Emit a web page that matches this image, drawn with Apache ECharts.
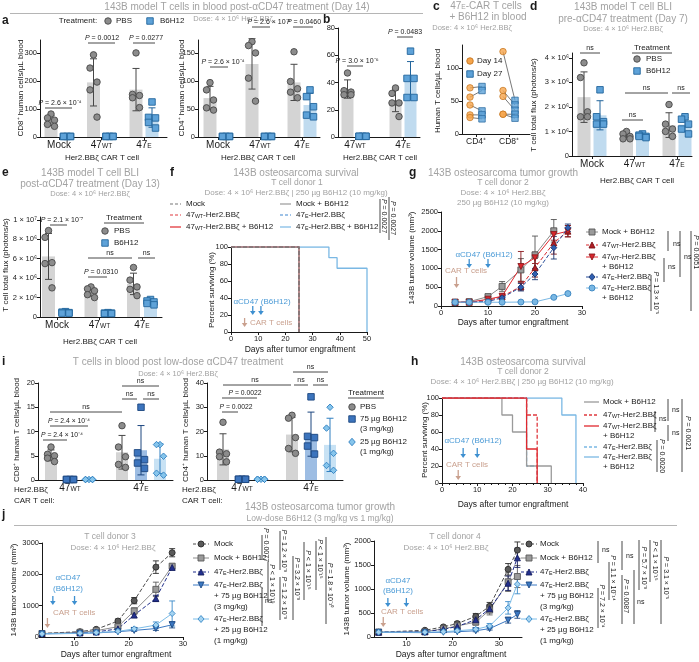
<!DOCTYPE html>
<html><head><meta charset="utf-8">
<script src="https://cdn.jsdelivr.net/npm/echarts@6/dist/echarts.min.js"></script>
<style>html,body{margin:0;padding:0;background:#fff}#c{width:699px;height:662px}</style>
</head><body><div id="c"></div>
<script>
// ================= DATA =================
const aCategories = ['Mock','47WT','47E'];
const aCD8_PBS   = [[82,68,60,45,38],[293,246,196,168,71],[300,152,148,140,105]];
const aCD8_B6H12 = [[2,2,2,2,2],[2,2,2,2,2],[125,70,68,52,32]];
const aCD4_PBS   = [[97,84,66,52,48],[170,163,150,105,64],[152,99,86,80,70]];
const aCD4_B6H12 = [[1,1,1,1,1],[1,1,1,1,1],[84,72,54,39,36]];
const aCD8_ticks = [0,100,200,300];
const aCD4_ticks = [0,50,100,150];

const bCategories = ['47WT','47E'];
const b_PBS   = [[47,34,33,31,31],[36,32,25,25,15]];
const b_B6H12 = [[0.5,0.5,0.5,0.5,0.5],[63,43,43,29,29]];
const b_ticks = [0,20,40,60,80];

const cCategories = ['CD4⁺','CD8⁺'];
const cDay14 = [[70,56,44,29,25],[125,66,57,30,30]];
const cDay27 = [[72,66,35,29,23],[51,44,36,30,24]];
const c_ticks = [0,50,100];

const dCategories = ['Mock','47WT','47E'];
const d_PBS   = [[3.8e6,3.2e6,1.8e6,1.6e6,1.6e6],[1.0e6,0.9e6,0.8e6,0.7e6,0.7e6],[2.1e6,1.3e6,1.1e6,1.0e6,0.8e6]];
const d_B6H12 = [[2.7e6,1.6e6,1.4e6,1.3e6,1.3e6],[0.9e6,0.85e6,0.8e6,0.8e6,0.75e6],[1.6e6,1.5e6,1.3e6,1.1e6,0.9e6]];
const d_ticks = [0,1e6,2e6,3e6,4e6];

const eCategories = ['Mock','47WT','47E'];
const e_PBS   = [[8.9e6,8.2e6,5.6e6,5.5e6,3.0e6],[3.1e6,2.9e6,2.7e6,2.3e6,2.0e6],[5.1e6,3.8e6,3.1e6,2.85e6,2.2e6]];
const e_B6H12 = [[0.55e6,0.5e6,0.45e6,0.4e6,0.4e6],[0.45e6,0.4e6,0.4e6,0.35e6,0.35e6],[1.8e6,1.65e6,1.55e6,1.4e6,1.25e6]];
const e_ticks = [0,2e6,4e6,6e6,8e6,1e7];

// f survival (day, % surviving) step points
const fMock    = [[0,100],[25,0]];
const fMockB   = [[0,100],[25,0]];
const f47WT    = [[0,100],[25,0]];
const f47WTB   = [[0,100],[25,0]];
const f47E     = [[0,100],[25,0]];
const f47EB    = [[0,100],[36,87.5],[39,75],[50,0]];

// g tumor growth
const gDays   = [3,6,10,13,17,20,24,27];
const gMockB  = [100,115,250,520,960,1360,2000,null];
const gMockBe = [10,15,40,130,300,500,300,null];
const g47WT   = [100,100,150,250,520,1020,1680,1990];
const g47WTe  = [10,10,20,40,100,250,300,150];
const g47WTB  = [100,100,180,260,1050,1280,1900,1990];
const g47WTBe = [10,10,30,60,400,150,150,150];
const g47E    = [100,100,120,220,500,850,1550,2080];
const g47Ee   = [10,10,15,30,100,150,300,100];
const g47EB   = [100,100,100,100,105,110,230,330];
const g47EBe  = [10,10,10,10,15,15,20,30];

// h survival
const hMockB  = [[0,100],[17,80],[20,60],[24,20],[31,0]];
const h47WT   = [[0,100],[24,80],[27,0]];
const h47WTB  = [[0,100],[24,40],[27,0]];
const h47E    = [[0,100],[24,20],[27,0]];
const h47EB   = [[0,100],[34,80],[38,0]];

// i low dose
const iCategories = ['47WT','47E'];
const iCD8_PBS = [[6.8,5.3,5.0,4.5,3.8],[11.2,6.8,4.8,3.2,2.6]];
const iCD8_75  = [[0.1,0.1,0.1,0.1,0.1],[15,5.6,4.2,3.5,2.4]];
const iCD8_25  = [[0.1,0.1,0.1,0.1,0.1],[7.3,7.3,4.9,1.4,1.0]];
const iCD4_PBS = [[23.8,11.5,10.8,9.6,7.5],[26.7,25.5,17.5,13,11]];
const iCD4_75  = [[0.3,0.3,0.3,0.3,0.3],[34.3,18,17.5,14,10.7]];
const iCD4_25  = [[0.3,0.3,0.3,0.3,0.3],[30,21.4,11,6,4]];

// j tumor growth low dose
const jlDays   = [4,11,14,18,21,25,28];
const jlMock   = [115,170,245,510,1160,2230,2690];
const jlMockE  = [10,20,30,60,100,200,130];
const jlMockB  = [110,150,200,330,830,1520,2260];
const jlMockBE = [10,20,25,50,100,230,80];
const jl47E    = [105,130,160,260,700,1230,2220];
const jl47EE   = [10,15,20,40,80,100,60];
const jl47E75  = [100,115,130,170,210,270,390];
const jl47E75E = [10,10,15,20,30,60,100];
const jl47E25  = [100,120,140,180,260,380,750];
const jl47E25E = [10,10,15,20,40,100,400];

const jrDays   = [4,14,18,21,25,28,32,34];
const jrMock   = [100,140,210,280,430,640,1410,1810];
const jrMockE  = [5,15,30,40,60,80,120,170];
const jrMockB  = [100,110,170,230,310,560,1150,1260];
const jrMockBE = [5,10,30,40,60,100,200,230];
const jr47E    = [100,110,160,220,360,590,1120,1650];
const jr47EE   = [5,10,20,30,50,80,150,200];
const jr47E75  = [100,90,100,110,130,175,350,470];
const jr47E75E = [5,10,10,15,20,30,60,80];
const jr47E25  = [100,100,110,130,160,230,607,1100];
const jr47E25E = [5,10,15,20,30,50,130,200];

// ================= STYLE / HELPERS =================
const FF = '"Liberation Sans", Arial, Helvetica, sans-serif';
const AX = '#1a1a1a', TG = '#a2a2a2', BLUE_T = '#4a9ad6', TAN = '#c9a08e';
const TFS = 7.5; // tick label font
const grids=[], xAxes=[], yAxes=[], series=[], G=[];
const LBL = {'Mock':'Mock','47WT':'47{s|WT}','47E':'47{s|E}'};
const lab = k => LBL[k] || k;
const RICH = (fs,c) => ({
  s:{fontSize:fs*0.66, fontFamily:FF, fill:c, color:c, verticalAlign:'bottom'},
  i:{fontSize:fs, fontFamily:FF, fill:c, color:c, fontStyle:'italic'}
});
const PBS = {sym:'circle', fill:'#8c8c8c', stroke:'#474747', bar:'#d4d4d4', err:'#474747'};
const B6  = {sym:'rect', fill:'#5ea2d8', stroke:'#22659c', bar:'#c0dbef', err:'#22659c'};
const D75 = {sym:'rect', fill:'#3c74bd', stroke:'#1c467f', bar:'#9dbde3', err:'#1c467f'};
const D25 = {sym:'diamond', fill:'#86c5ec', stroke:'#2f7fc0', bar:'#c8e2f4', err:'#2f7fc0'};
const SYM = {circle:'circle', rect:'rect', diamond:'diamond', triangle:'triangle', tridown:'path://M0,0L10,0L5,9Z'};
const JIT = [0,-3.5,3.5,-3.5,3.5];
const mean = a => a.reduce((s,v)=>s+v,0)/a.length;
const sdev = a => { const m=mean(a); return Math.sqrt(a.reduce((s,v)=>s+(v-m)*(v-m),0)/(a.length-1)); };

function addGrid(l,t,w,h){ grids.push({left:l,top:t,width:w,height:h,containLabel:false}); return grids.length-1; }
function yAx(gi,max,o){
  o=o||{};
  const ax={gridIndex:gi,type:'value',min:0,max,splitLine:{show:false},
    axisLine:{show:true,lineStyle:{color:AX,width:1}},
    axisTick:{show:true,length:3,lineStyle:{color:AX}},
    axisLabel:{formatter:o.fmt||(v=>String(v)),fontSize:TFS,color:AX,fontFamily:FF,margin:3}};
  if(o.ticks){ax.axisTick.customValues=o.ticks; ax.axisLabel.customValues=o.ticks;}
  if(o.interval){ax.interval=o.interval;}
  yAxes.push(ax);
}
function xAx(gi,min,max,o){
  o=o||{};
  const fs=o.fs||TFS;
  const ax={gridIndex:gi,type:'value',min,max,splitLine:{show:false},
    axisLine:{show:true,onZero:false,lineStyle:{color:AX,width:1}},
    axisTick:{show:true,length:3,lineStyle:{color:AX}},
    minorTick:o.minor?{show:true,splitNumber:o.minor,length:2,lineStyle:{color:AX}}:{show:false},
    axisLabel:{formatter:o.fmt||(v=>String(v)),fontSize:fs,color:AX,fontFamily:FF,margin:o.margin||3,
      rich:{s:{fontSize:fs*0.66,fontFamily:FF,color:AX,verticalAlign:'bottom'}}}};
  if(o.ticks){ax.axisTick.customValues=o.ticks; ax.axisLabel.customValues=o.ticks;}
  if(o.interval){ax.interval=o.interval;}
  xAxes.push(ax);
}
function barItem(fill,errc,bw){
  return function(params,api){
    const x=api.value(0), m=api.value(1), e=api.value(2);
    const b=api.coord([x,0]), tp=api.coord([x,m]);
    const ch=[];
    if(fill && b[1]-tp[1]>0.5) ch.push({type:'rect',shape:{x:b[0]-bw/2,y:tp[1],width:bw,height:b[1]-tp[1]},style:{fill}});
    if(errc && e>0 && (b[1]-tp[1])>2){
      const hi=api.coord([x,m+e]), lo=api.coord([x,Math.max(m-e,0)]);
      ch.push({type:'line',shape:{x1:b[0],y1:hi[1],x2:b[0],y2:lo[1]},style:{stroke:errc,lineWidth:1}});
      ch.push({type:'line',shape:{x1:b[0]-3.5,y1:hi[1],x2:b[0]+3.5,y2:hi[1]},style:{stroke:errc,lineWidth:1}});
      ch.push({type:'line',shape:{x1:b[0]-3.5,y1:lo[1],x2:b[0]+3.5,y2:lo[1]},style:{stroke:errc,lineWidth:1}});
    }
    return {type:'group',children:ch};
  };
}
function errItem(c){
  return function(params,api){
    const x=api.value(0), v=api.value(1), e=api.value(2);
    const hi=api.coord([x,v+e]), lo=api.coord([x,Math.max(v-e,0)]);
    return {type:'group',children:[
      {type:'line',shape:{x1:hi[0],y1:hi[1],x2:lo[0],y2:lo[1]},style:{stroke:c,lineWidth:0.9}},
      {type:'line',shape:{x1:hi[0]-3,y1:hi[1],x2:hi[0]+3,y2:hi[1]},style:{stroke:c,lineWidth:0.9}},
      {type:'line',shape:{x1:lo[0]-3,y1:lo[1],x2:lo[0]+3,y2:lo[1]},style:{stroke:c,lineWidth:0.9}}]};
  };
}
function dotPanel(p){
  const [l,t,w,h]=p.grid; const gi=addGrid(l,t,w,h);
  const c=p.centers, n=c.length, unit=(c[n-1]-c[0])/(n-1);
  const xmin=1-(c[0]-l)/unit, xmax=n+(l+w-c[n-1])/unit;
  xAx(gi,xmin,xmax,{ticks:c.map((_,i)=>i+1),fmt:v=>lab(p.labels[Math.round(v)-1]),fs:p.lfs||10});
  yAx(gi,p.ymax,{ticks:p.yticks,fmt:p.yfmt});
  const bw=p.bw||13;
  p.series.forEach(s=>{
    const bars=s.data.map((vals,g)=>[g+1+s.off/unit,mean(vals),sdev(vals)]);
    series.push({type:'custom',xAxisIndex:gi,yAxisIndex:gi,z:2,silent:true,data:bars,renderItem:barItem(s.bar,s.err,bw)});
  });
  p.series.forEach(s=>{
    const pts=[]; s.data.forEach((vals,g)=>vals.forEach((v,k)=>pts.push([g+1+(s.off+JIT[k%JIT.length])/unit,v])));
    series.push({type:'scatter',xAxisIndex:gi,yAxisIndex:gi,z:3,silent:true,symbol:SYM[s.sym],symbolSize:s.size||6.5,data:pts,
      itemStyle:{color:s.fill,borderColor:s.stroke,borderWidth:0.9,opacity:1}});
  });
  return {gi,unit};
}
function linePanel(p){
  const [l,t,w,h]=p.grid; const gi=addGrid(l,t,w,h);
  xAx(gi,p.xmin,p.xmax,{ticks:p.xticks,interval:p.xint});
  yAx(gi,p.ymax,{ticks:p.yticks,interval:p.yint});
  p.series.forEach(s=>{
    const pts=[],errs=[];
    p.days.forEach((d,i)=>{ if(s.vals[i]!=null){pts.push([d,s.vals[i]]); errs.push([d,s.vals[i],s.errs[i]]);} });
    series.push({type:'custom',xAxisIndex:gi,yAxisIndex:gi,z:2,silent:true,data:errs,renderItem:errItem(s.stroke)});
    series.push({type:'line',xAxisIndex:gi,yAxisIndex:gi,z:3,silent:true,data:pts,symbol:SYM[s.sym],symbolSize:s.size||6,
      lineStyle:{color:s.line,width:1,type:s.dash?[4,2]:'solid'},itemStyle:{color:s.fill,borderColor:s.stroke,borderWidth:0.9}});
  });
  return gi;
}
function survPanel(p){
  const [l,t,w,h]=p.grid; const gi=addGrid(l,t,w,h);
  xAx(gi,0,p.xmax,{interval:10,minor:p.minor});
  yAx(gi,100,{interval:20});
  p.series.forEach(s=>{
    series.push({type:'line',step:'end',xAxisIndex:gi,yAxisIndex:gi,z:3,silent:true,data:s.data,symbol:'none',
      lineStyle:{color:s.color,width:1.3,type:s.dash?[4,2]:'solid'}});
  });
  return gi;
}
function T(x,y,text,o){
  o=o||{}; const fs=o.fs||8, c=o.c||AX, al=o.al||'center';
  G.push({type:'text',x,y,rotation:o.rot||0,z:20,silent:true,
    style:{text,fontFamily:FF,fontSize:fs,fill:c,fontWeight:o.fw||'normal',fontStyle:o.it?'italic':'normal',
      align:al,textAlign:al,verticalAlign:'middle',textVerticalAlign:'middle',rich:RICH(fs,c)}});
}
function L(x1,y1,x2,y2,o){
  o=o||{};
  G.push({type:'line',z:20,silent:true,shape:{x1,y1,x2,y2},style:{stroke:o.c||AX,lineWidth:o.w||0.8,lineDash:o.dash||null}});
}
function S(x1,x2,y,txt,tx,fs){ L(x1,y,x2,y); T(tx!=null?tx:(x1+x2)/2,y-4.5,txt,{fs:fs||7}); }
function TR(x,y,txt,fs){ T(x,y,txt,{rot:-Math.PI/2,fs:fs||7}); }
function VL(x,y1,y2){ L(x,y1,x,y2); }
function symG(kind,x,y,s,fill,stroke){
  const h=s/2, st={fill,stroke,lineWidth:0.9};
  if(kind==='circle') G.push({type:'circle',z:21,silent:true,shape:{cx:x,cy:y,r:h},style:st});
  else if(kind==='rect') G.push({type:'rect',z:21,silent:true,shape:{x:x-h,y:y-h,width:s,height:s},style:st});
  else {
    let pts;
    if(kind==='diamond') pts=[[x,y-h-0.5],[x+h,y],[x,y+h+0.5],[x-h,y]];
    else if(kind==='triangle') pts=[[x,y-h],[x+h,y+h],[x-h,y+h]];
    else pts=[[x-h,y-h],[x+h,y-h],[x,y+h]];
    G.push({type:'polygon',z:21,silent:true,shape:{points:pts},style:st});
  }
}
function arrow(x,y1,y2,c){
  L(x,y1,x,y2-3,{c,w:1.3});
  G.push({type:'polygon',z:21,silent:true,shape:{points:[[x-2.8,y2-4],[x+2.8,y2-4],[x,y2]]},style:{fill:c}});
}
function LG(x,y,s,half){
  L(x-half,y,x+half,y,{c:s.line,w:1,dash:s.dash?[3,2]:null});
  if(s.sym) symG(s.sym,x,y,6,s.fill,s.stroke);
}

// ================= PANELS =================
// a
dotPanel({grid:[40,40,127,97],centers:[59,102,144],labels:aCategories,ymax:346,yticks:aCD8_ticks,
  series:[{data:aCD8_PBS,off:-8,...PBS},{data:aCD8_B6H12,off:8,...B6}]});
dotPanel({grid:[198,40,122,97],centers:[218,260,302],labels:aCategories,ymax:173,yticks:aCD4_ticks,
  series:[{data:aCD4_PBS,off:-8,...PBS},{data:aCD4_B6H12,off:8,...B6}]});
// b
dotPanel({grid:[338,28,82,109],centers:[355,403],labels:bCategories,ymax:80,yticks:b_ticks,bw:12,
  series:[{data:b_PBS,off:-7.5,...PBS},{data:b_B6H12,off:7.5,...B6}]});
// c
(function(){
  const gi=addGrid(462,45,68,89);
  const cen=[476,509], unit=33, xmin=1-(cen[0]-462)/unit, xmax=2+(530-cen[1])/unit;
  xAx(gi,xmin,xmax,{ticks:[1,2],fmt:v=>cCategories[Math.round(v)-1],fs:8.5});
  yAx(gi,135,{ticks:c_ticks});
  const o14=-6/unit, o27=6/unit, segs=[];
  cDay14.forEach((arr,g)=>arr.forEach((v,k)=>segs.push([g+1+o14,v,g+1+o27,cDay27[g][k]])));
  series.push({type:'custom',xAxisIndex:gi,yAxisIndex:gi,z:2,silent:true,data:segs,renderItem:(p,api)=>{
    const a=api.coord([api.value(0),api.value(1)]), b=api.coord([api.value(2),api.value(3)]);
    return {type:'line',shape:{x1:a[0],y1:a[1],x2:b[0],y2:b[1]},style:{stroke:'#555',lineWidth:0.8}};
  }});
  const p14=[],p27=[];
  cDay14.forEach((arr,g)=>arr.forEach(v=>p14.push([g+1+o14,v])));
  cDay27.forEach((arr,g)=>arr.forEach(v=>p27.push([g+1+o27,v])));
  series.push({type:'scatter',xAxisIndex:gi,yAxisIndex:gi,z:3,silent:true,symbol:'circle',symbolSize:6.5,data:p14,itemStyle:{color:'#f6a54c',borderColor:'#c4751f',borderWidth:0.9}});
  series.push({type:'scatter',xAxisIndex:gi,yAxisIndex:gi,z:3,silent:true,symbol:'rect',symbolSize:6.5,data:p27,itemStyle:{color:'#5ea2d8',borderColor:'#22659c',borderWidth:0.9}});
})();
// d
const fmtE6 = v => v===0?'0':(Math.round(v/1e6))+' × 10⁶';
dotPanel({grid:[572,53,120,103],centers:[592,634,677],labels:dCategories,ymax:4.2e6,yticks:d_ticks,yfmt:fmtE6,
  series:[{data:d_PBS,off:-8,...PBS},{data:d_B6H12,off:8,...B6}]});
// e
const fmtE = v => v===0?'0':(v>=1e7?'1 × 10⁷':(Math.round(v/1e6))+' × 10⁶');
dotPanel({grid:[40,217,122,100],centers:[57,100,142],labels:eCategories,ymax:1.03e7,yticks:e_ticks,yfmt:fmtE,
  series:[{data:e_PBS,off:-8.5,...PBS},{data:e_B6H12,off:8.5,...B6}]});
// f
const F = {grid:[231,247,136,85],xmax:50};
survPanel({...F,series:[
  {data:f47EB,color:'#7ab8e4'},{data:f47E,color:'#3f86d0',dash:true},
  {data:f47WTB,color:'#e0282e'},{data:f47WT,color:'#e0383e',dash:true},
  {data:fMockB,color:'#9a9a9a'},{data:fMock,color:'#777',dash:true}]});
// g
const GP = {grid:[441,212,141,94],xmin:0,xmax:30};
const gSer = [
  {vals:gMockB,errs:gMockBe,line:'#8a8a8a',fill:'#9a9a9a',stroke:'#555',sym:'rect'},
  {vals:g47WT,errs:g47WTe,line:'#d9262c',fill:'#b01e24',stroke:'#7a1015',sym:'triangle',dash:true},
  {vals:g47WTB,errs:g47WTBe,line:'#e0282e',fill:'#d9262c',stroke:'#8a1a1e',sym:'tridown'},
  {vals:g47E,errs:g47Ee,line:'#2b4f9a',fill:'#2f5fb0',stroke:'#1a3570',sym:'diamond',dash:true},
  {vals:g47EB,errs:g47EBe,line:'#7ab8e4',fill:'#79b7e3',stroke:'#3a84c0',sym:'circle'}];
linePanel({...GP,days:gDays,xint:10,ymax:2500,yint:500,series:gSer});
// h
const H = {grid:[442,398,141,85],xmax:40};
survPanel({...H,minor:5,series:[
  {data:h47EB,color:'#7ab8e4'},{data:h47E,color:'#7ab8e4',dash:true},
  {data:hMockB,color:'#9a9a9a'},
  {data:h47WTB,color:'#e0282e'},{data:h47WT,color:'#e0383e',dash:true}]});
// i
dotPanel({grid:[38,383,135,97],centers:[70,141],labels:iCategories,ymax:20,yticks:[0,5,10,15,20],bw:12,
  series:[{data:iCD8_PBS,off:-19,...PBS},{data:iCD8_75,off:0,...D75},{data:iCD8_25,off:19,...D25}]});
dotPanel({grid:[207,383,136,97],centers:[242,311],labels:iCategories,ymax:40,yticks:[0,10,20,30,40],bw:12,
  series:[{data:iCD4_PBS,off:-19,...PBS},{data:iCD4_75,off:0,...D75},{data:iCD4_25,off:19,...D25}]});
// j
const jSty = [
  {line:'#4d4d4d',fill:'#5a5a5a',stroke:'#2a2a2a',sym:'circle',dash:true},
  {line:'#8c8c8c',fill:'#9a9a9a',stroke:'#5a5a5a',sym:'rect'},
  {line:'#1f2d8a',fill:'#23308f',stroke:'#141d5e',sym:'triangle',dash:true},
  {line:'#3b78c2',fill:'#3b78c2',stroke:'#1d4a85',sym:'tridown'},
  {line:'#7dbde8',fill:'#a5d3f0',stroke:'#3a8ac8',sym:'diamond'}];
linePanel({grid:[42,543,141,94],xmin:4,xmax:30,xticks:[10,20,30],days:jlDays,ymax:3000,yticks:[0,1000,2000,3000],
  series:[[jlMock,jlMockE],[jlMockB,jlMockBE],[jl47E,jl47EE],[jl47E75,jl47E75E],[jl47E25,jl47E25E]].map((d,i)=>({vals:d[0],errs:d[1],...jSty[i]}))});
linePanel({grid:[374,541,148,96],xmin:3,xmax:35,xticks:[10,20,30],days:jrDays,ymax:2000,yticks:[0,500,1000,1500,2000],
  series:[[jrMock,jrMockE],[jrMockB,jrMockBE],[jr47E,jr47EE],[jr47E75,jr47E75E],[jr47E25,jr47E25E]].map((d,i)=>({vals:d[0],errs:d[1],...jSty[i]}))});

// ================= ANNOTATIONS =================
const B = {fs:12,fw:'bold',al:'left'};
// header a/b
T(2,21,'a',B);
T(237,7,'143B model T cells in blood post-αCD47 treatment (Day 14)',{fs:10,c:TG});
L(10,13.5,423,13.5,{c:TG});
T(233,18.5,'Dose: 4 × 10⁶ Her2.BBζ',{fs:7.5,c:TG});
T(78,21,'Treatment:',{fs:8}); symG('circle',108,21,6.5,PBS.fill,PBS.stroke); T(116,21,'PBS',{fs:8,al:'left'});
symG('rect',150,21,6.5,B6.fill,B6.stroke); T(160,21,'B6H12',{fs:8,al:'left'});
T(21,88,'CD8⁺ human cells/µL blood',{rot:Math.PI/2});
T(102,158,'Her2.BBζ CAR T cell');
T(182,88,'CD4⁺ human cells/µL blood',{rot:Math.PI/2});
T(258,158,'Her2.BBζ CAR T cell');
T(323,20,'b',B);
T(380,158,'Her2.BBζ CAR T cell');
S(45,72,108,'{i|P} = 2.6 × 10⁻⁴',60);
S(88,115,43,'{i|P} = 0.0012',102);
S(133,155,43,'{i|P} = 0.0277',146);
S(210,228,67,'{i|P} = 2.6 × 10⁻⁴',223);
S(252,270,27,'{i|P} = 2.6 × 10⁻⁴',269);
S(293,313,27,'{i|P} = 0.0460',304);
S(347,363,66,'{i|P} = 3.0 × 10⁻⁶',357);
S(397,413,37,'{i|P} = 0.0483',405);
// c
T(433,7,'c',B);
T(486,6,'47{s|E}-CAR T cells',{fs:10,c:TG});
T(488,17,'+ B6H12 in blood',{fs:10,c:TG});
T(472,28,'Dose: 4 × 10⁶ Her2.BBζ',{fs:7.5,c:TG});
T(438,91,'Human T cells/µL blood',{rot:Math.PI/2});
symG('circle',470,61,6.5,'#f6a54c','#c4751f'); T(477,61,'Day 14',{fs:8,al:'left'});
symG('rect',470,74,6.5,'#5ea2d8','#22659c'); T(477,74,'Day 27',{fs:8,al:'left'});
// d
T(530,7,'d',B);
T(623,7,'143B model T cell BLI',{fs:10,c:TG});
T(623,19,'pre-αCD47 treatment (Day 7)',{fs:10,c:TG});
T(623,29,'Dose: 4 × 10⁶ Her2.BBζ',{fs:7.5,c:TG});
T(534,105,'T cell total flux (photons/s)',{rot:Math.PI/2});
T(652,48,'Treatment',{fs:8}); L(632,53,672,53);
symG('circle',637,59,6.5,PBS.fill,PBS.stroke); T(646,59,'PBS',{fs:8,al:'left'});
symG('rect',637,71,6.5,B6.fill,B6.stroke); T(646,71,'B6H12',{fs:8,al:'left'});
S(580,600,53,'ns'); S(625,668,93,'ns'); S(672,690,93,'ns'); S(622,643,120,'ns');
T(637,181,'Her2.BBζ CAR T cell');
// e
T(2,173,'e',B);
T(90,173,'143B model T cell BLI',{fs:10,c:TG});
T(90,184,'post-αCD47 treatment (Day 13)',{fs:10,c:TG});
T(90,194,'Dose: 4 × 10⁶ Her2.BBζ',{fs:7.5,c:TG});
T(6,265,'T cell total flux (photons/s)',{rot:Math.PI/2});
T(124,218,'Treatment',{fs:8}); L(104,223,144,223);
symG('circle',105,231,6.5,PBS.fill,PBS.stroke); T(114,231,'PBS',{fs:8,al:'left'});
symG('rect',105,243,6.5,B6.fill,B6.stroke); T(114,243,'B6H12',{fs:8,al:'left'});
S(50,67,225,'{i|P} = 2.1 × 10⁻⁷',62);
S(88,132,258,'ns'); S(138,155,258,'ns');
S(88,107,277,'{i|P} = 0.0310',101);
T(100,342,'Her2.BBζ CAR T cell');
// f
T(170,173,'f',B);
T(296,173,'143B osteosarcoma survival',{fs:10,c:TG});
T(297,183,'T cell donor 1',{fs:8.5,c:TG});
T(296,193,'Dose: 4 × 10⁶ Her2.BBζ | 250 µg B6H12 (10 mg/kg)',{fs:8,c:TG});
[[204,'Mock','#777',true],[215,'47{s|WT}-Her2.BBζ','#e0383e',true],[227,'47{s|WT}-Her2.BBζ + B6H12','#e0282e',false]].forEach(r=>{
  L(170,r[0],181,r[0],{c:r[2],w:1.2,dash:r[3]?[3,2]:null}); T(186,r[0],r[1],{fs:8,al:'left'}); });
[[204,'Mock + B6H12','#9a9a9a',false],[215,'47{s|E}-Her2.BBζ','#3f86d0',true],[227,'47{s|E}-Her2.BBζ + B6H12','#7ab8e4',false]].forEach(r=>{
  L(280,r[0],291,r[0],{c:r[2],w:1.2,dash:r[3]?[3,2]:null}); T(296,r[0],r[1],{fs:8,al:'left'}); });
VL(380,199,233); TR(384,216,'{i|P} = 0.0027');
VL(389,197,240); TR(393,218,'{i|P} = 0.0027');
T(212,290,'Percent surviving (%)',{rot:Math.PI/2});
T(300,350,'Days after tumor engraftment',{fs:8.5});
const fX = d => F.grid[0]+d/F.xmax*F.grid[2];
T(262,302,'αCD47 (B6H12)',{fs:8,c:BLUE_T});
arrow(fX(8),306,315,'#3d8fd0'); arrow(fX(11),306,315,'#3d8fd0');
arrow(fX(5),318,327,TAN); T(250,323,'CAR T cells',{fs:8,c:TAN,al:'left'});
// g
T(409,173,'g',B);
T(503,173,'143B osteosarcoma tumor growth',{fs:10,c:TG});
T(503,183,'T cell donor 2',{fs:8.5,c:TG});
T(503,193,'Dose: 4 × 10⁶ Her2.BBζ',{fs:8,c:TG});
T(503,203,'250 µg B6H12 (10 mg/kg)',{fs:8,c:TG});
T(412,258,'143B tumor volume (mm³)',{rot:Math.PI/2});
T(513,323,'Days after tumor engraftment',{fs:8.5});
const gX = d => GP.grid[0]+(d-GP.xmin)/(GP.xmax-GP.xmin)*GP.grid[2];
T(484,255,'αCD47 (B6H12)',{fs:8,c:BLUE_T});
arrow(gX(6),259,268,'#3d8fd0'); arrow(gX(10),259,268,'#3d8fd0');
T(466,271,'CAR T cells',{fs:8,c:TAN}); arrow(gX(3.3),277,288,TAN);
[[232,0],[245,1],[257,2],[277,3],[288,4]].forEach(r=>LG(592,r[0],gSer[r[1]],6));
[[232,'Mock + B6H12'],[245,'47{s|WT}-Her2.BBζ'],[257,'47{s|WT}-Her2.BBζ'],[267,'+ B6H12'],[277,'47{s|E}-Her2.BBζ'],[288,'47{s|E}-Her2.BBζ'],[298,'+ B6H12']]
  .forEach(r=>T(602,r[0],r[1],{fs:8,al:'left'}));
VL(668,231,251); T(673,244,'ns',{fs:7,al:'left'});
VL(680,231,277); T(684,257,'ns',{fs:7,al:'left'});
VL(664,258,282); T(668,267,'ns',{fs:7,al:'left'});
VL(691,231,311); TR(696,252,'{i|P} = 0.0051');
VL(651,275,311); TR(656,293,'{i|P} = 1.3 × 10⁻⁵');
// h
T(411,362,'h',B);
T(523,362,'143B osteosarcoma survival',{fs:10,c:TG});
T(523,372,'T cell donor 2',{fs:8.5,c:TG});
T(522,382,'Dose: 4 × 10⁶ Her2.BBζ | 250 µg B6H12 (10 mg/kg)',{fs:8,c:TG});
T(425,440,'Percent surviving (%)',{rot:Math.PI/2});
T(513,505,'Days after tumor engraftment',{fs:8.5});
const hX = d => H.grid[0]+d/H.xmax*H.grid[2];
T(473,441,'αCD47 (B6H12)',{fs:8,c:BLUE_T});
arrow(hX(6),448,458,'#3d8fd0'); arrow(hX(10),448,458,'#3d8fd0');
T(467,465,'CAR T cells',{fs:8,c:TAN}); arrow(hX(4.6),470,480,TAN);
[[402,'#9a9a9a',false],[415,'#e0383e',true],[426,'#e0282e',false],[447,'#7ab8e4',true],[457,'#7ab8e4',false]].forEach(r=>
  L(584,r[0],599,r[0],{c:r[1],w:1.3,dash:r[2]?[3,2]:null}));
[[402,'Mock + B6H12'],[415,'47{s|WT}-Her2.BBζ'],[426,'47{s|WT}-Her2.BBζ'],[436,'+ B6H12'],[447,'47{s|E}-Her2.BBζ'],[457,'47{s|E}-Her2.BBζ'],[467,'+ B6H12']]
  .forEach(r=>T(603,r[0],r[1],{fs:8,al:'left'}));
VL(655,411,432); T(659,419,'ns',{fs:7,al:'left'});
VL(668,399,421); T(672,410,'ns',{fs:7,al:'left'});
VL(668,425,441); T(672,433,'ns',{fs:7,al:'left'});
VL(682,399,472); TR(688,433,'{i|P} = 0.0021');
VL(657,440,472); TR(662,456,'{i|P} = 0.0020');
// i
T(2,362,'i',B);
T(178,362,'T cells in blood post low-dose αCD47 treatment',{fs:10,c:TG});
T(178,374,'Dose: 4 × 10⁶ Her2.BBζ',{fs:7.5,c:TG});
T(17,430,'CD8⁺ human T cells/µL blood',{rot:Math.PI/2});
T(186,430,'CD4⁺ human T cells/µL blood',{rot:Math.PI/2});
T(14,490,'Her2.BBζ',{fs:8,al:'left'}); T(14,501,'CAR T cell:',{fs:8,al:'left'});
T(182,490,'Her2.BBζ',{fs:8,al:'left'}); T(182,501,'CAR T cell:',{fs:8,al:'left'});
S(43,67,440,'{i|P} = 2.4 × 10⁻⁴',62,6.8);
S(50,88,426,'{i|P} = 2.4 × 10⁻⁴',69,6.8);
S(50,122,412,'ns',86);
S(122,137,399,'ns'); S(143,159,399,'ns'); S(122,159,386,'ns');
S(222,238,412,'{i|P} = 0.0022',236,6.8);
S(222,257,398,'{i|P} = 0.0022',245,6.8);
S(223,291,385,'ns',255);
S(294,308,385,'ns'); S(313,328,385,'ns'); S(293,328,372,'ns');
T(366,393,'Treatment',{fs:8}); L(348,398,384,398);
symG('circle',352,407,6.5,PBS.fill,PBS.stroke); T(360,407,'PBS',{fs:8,al:'left'});
symG('rect',352,419,6.5,D75.fill,D75.stroke); T(360,419,'75 µg B6H12',{fs:8,al:'left'}); T(360,429,'(3 mg/kg)',{fs:8,al:'left'});
symG('diamond',352,442,6.5,D25.fill,D25.stroke); T(360,442,'25 µg B6H12',{fs:8,al:'left'}); T(360,452,'(1 mg/kg)',{fs:8,al:'left'});
// j
T(2,515,'j',B);
T(320,507,'143B osteosarcoma tumor growth',{fs:10,c:TG});
T(320,519,'Low-dose B6H12 (3 mg/kg vs 1 mg/kg)',{fs:8.5,c:TG});
L(14,525.5,677,525.5,{c:TG});
T(110,537,'T cell donor 3',{fs:8.5,c:TG});
T(113,548,'Dose: 4 × 10⁶ Her2.BBζ',{fs:8,c:TG});
T(14,590,'143B tumor volume (mm³)',{rot:Math.PI/2});
T(116,655,'Days after tumor engraftment',{fs:8.5});
const jlX = d => 42+(d-4)/26*141;
T(68,578,'αCD47',{fs:8,c:BLUE_T}); T(68,589,'(B6H12)',{fs:8,c:BLUE_T});
arrow(jlX(6),596,605,'#3d8fd0'); arrow(jlX(10),596,605,'#3d8fd0');
T(53,613,'CAR T cells',{fs:8,c:TAN,al:'left'}); arrow(jlX(5),618,628,TAN);
const jRows=[[544,'Mock'],[558,'Mock + B6H12'],[572,'47{s|E}-Her2.BBζ'],[585,'47{s|E}-Her2.BBζ'],[596,'+ 75 µg B6H12'],[607,'(3 mg/kg)'],[619,'47{s|E}-Her2.BBζ'],[630,'+ 25 µg B6H12'],[641,'(1 mg/kg)']];
const jSymRows=[544,558,572,585,619];
jSymRows.forEach((y,i)=>LG(201,y,jSty[i],8)); jRows.forEach(r=>T(214,r[0],r[1],{fs:8,al:'left'}));
VL(262,535,560); TR(266,545,'{i|P} = 0.0077');
VL(268,562,602); TR(272,584,'{i|P} < 1 × 10⁻¹⁵');
VL(262,588,626); T(265,601,'ns',{fs:7,al:'left'});
VL(280,531,570); TR(284,551,'{i|P} = 1.2 × 10⁻⁸');
VL(280,577,620); TR(284,598,'{i|P} = 1.2 × 10⁻⁸');
VL(293,556,620); TR(297,579,'{i|P} = 3.2 × 10⁻⁸');
VL(304,542,600); TR(308,570,'{i|P} < 1 × 10⁻¹⁵');
VL(316,541,590); TR(320,559,'{i|P} < 1 × 10⁻¹⁵');
VL(326,537,624); TR(330,585,'{i|P} = 1.8 × 10⁻¹⁰');
T(455,537,'T cell donor 4',{fs:8.5,c:TG});
T(446,548,'Dose: 4 × 10⁶ Her2.BBζ',{fs:8,c:TG});
T(347,589,'143B tumor volume (mm³)',{rot:Math.PI/2});
T(451,655,'Days after tumor engraftment',{fs:8.5});
const jrX = d => 374+(d-3)/32*148;
T(398,581,'αCD47',{fs:8,c:BLUE_T}); T(398,591,'(B6H12)',{fs:8,c:BLUE_T});
arrow(jrX(6),598,607,'#3d8fd0'); arrow(jrX(10),598,607,'#3d8fd0');
T(381,612,'CAR T cells',{fs:8,c:TAN,al:'left'}); arrow(jrX(5),617,627,TAN);
jSymRows.forEach((y,i)=>LG(529,y,jSty[i],8)); jRows.forEach(r=>T(540,r[0],r[1],{fs:8,al:'left'}));
VL(598,541,563); T(602,550,'ns',{fs:7,al:'left'});
VL(622,541,570); T(626,556,'ns',{fs:7,al:'left'});
VL(609,562,600); TR(613,578,'{i|P} = 1.1 × 10⁻¹⁴');
VL(598,588,628); TR(602,606,'{i|P} = 7.2 × 10⁻⁴');
VL(622,575,624); TR(626,596,'{i|P} = 0.0087');
VL(634,570,624); T(637,602,'ns',{fs:7,al:'left'});
VL(639,540,590); TR(644,568,'{i|P} = 5.7 × 10⁻⁸');
VL(650,540,582); TR(655,561,'{i|P} < 1 × 10⁻¹⁵');
VL(661,540,624); TR(666,578,'{i|P} = 3.1 × 10⁻⁵');

// ================= RENDER =================
const chart = echarts.init(document.getElementById('c'), null, {renderer:'canvas'});
chart.setOption({animation:false, backgroundColor:'#fff', textStyle:{fontFamily:FF},
  grid:grids, xAxis:xAxes, yAxis:yAxes, series, graphic:G});
</script></body></html>
